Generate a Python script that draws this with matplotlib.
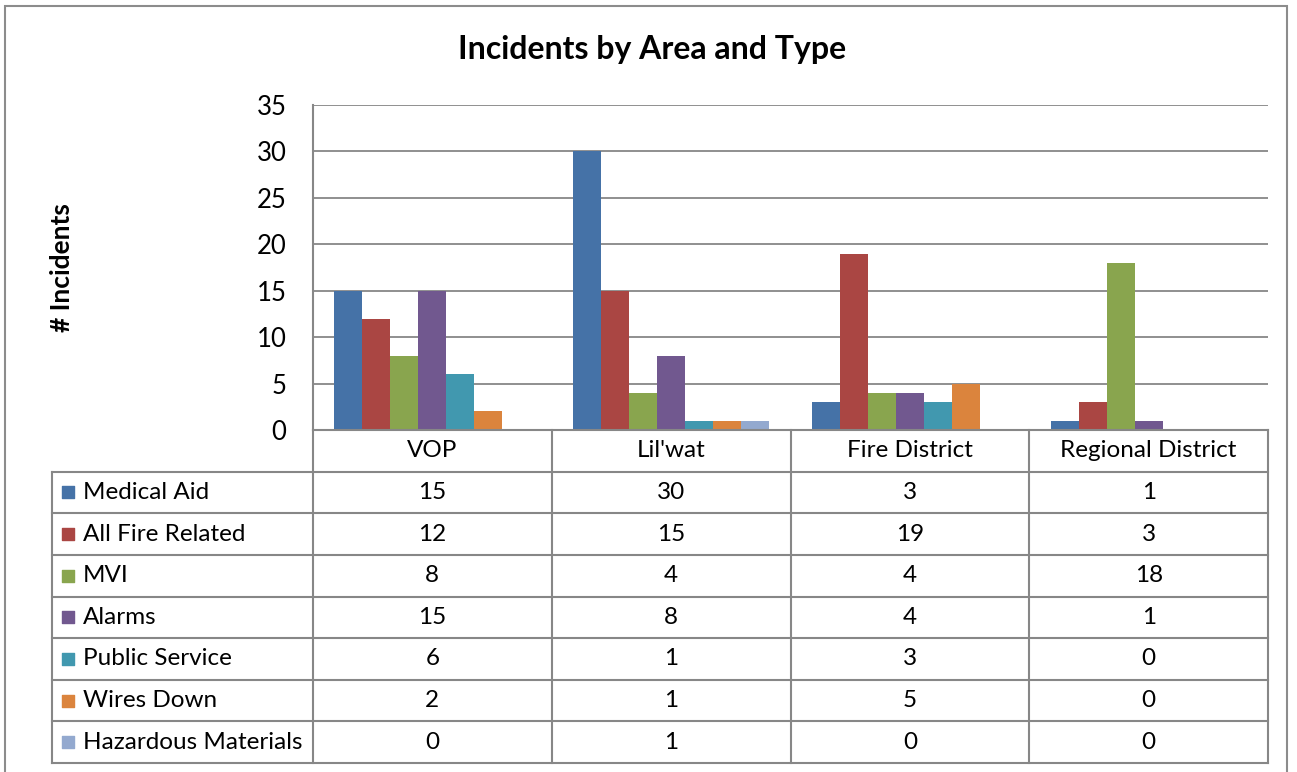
import numpy as np
import matplotlib.pyplot as plt
from matplotlib.patches import Rectangle

areas = ["VOP", "Lil'wat", "Fire District", "Regional District"]
types = ["Medical Aid", "All Fire Related", "MVI", "Alarms",
         "Public Service", "Wires Down", "Hazardous Materials"]
medical_aid = [15, 30, 3, 1]
all_fire_related = [12, 15, 19, 3]
mvi = [8, 4, 4, 18]
alarms = [15, 8, 4, 1]
public_service = [6, 1, 3, 0]
wires_down = [2, 1, 5, 0]
hazardous_materials = [0, 1, 0, 0]
series = [medical_aid, all_fire_related, mvi, alarms,
          public_service, wires_down, hazardous_materials]
colors = ["#4572A7", "#AA4643", "#89A54E", "#71588F",
          "#4198AF", "#DB843D", "#93A9CF"]

W, H = 1297, 772
plt.rcParams['font.family'] = ['Lato', 'DejaVu Sans']
line_col = "#878787"
tsize = 17.5


def box(x0, y0, x1, y1):
    # pixel box -> figure fraction
    return [x0 / W, 1 - y1 / H, (x1 - x0) / W, (y1 - y0) / H]


fig = plt.figure(figsize=(W / 100, H / 100), dpi=100)

# chart border
fig.patches.append(Rectangle((5 / W, -0.1), (1287 - 5) / W, 1.1 - 6 / H,
                             transform=fig.transFigure, fill=False,
                             edgecolor="#8c8c8c", lw=1.5))

fig.text(652 / W, 1 - 50 / H, "Incidents by Area and Type", ha="center",
         va="center", fontsize=23, fontweight="bold")
fig.text(62 / W, 1 - 268 / H, "# Incidents", ha="center", va="center",
         rotation=90, fontsize=19, fontweight="bold")

# bars
ax = fig.add_axes(box(313, 105, 1268, 430))
x = np.arange(len(areas))
n = len(series)
bw = 0.82 / n
for i, vals in enumerate(series):
    ax.bar(x - 0.41 + bw * (i + 0.5), vals, bw, color=colors[i], zorder=2)
ax.set_xlim(-0.5, len(areas) - 0.5)
ax.set_ylim(0, 35)
ax.set_yticks(range(0, 36, 5))
ax.set_xticks([])
ax.yaxis.grid(True, color=line_col, lw=1.3)
ax.set_axisbelow(True)
for s in ["top", "right"]:
    ax.spines[s].set_visible(False)
for s in ["left", "bottom"]:
    ax.spines[s].set_color(line_col)
    ax.spines[s].set_linewidth(1.5)
ax.tick_params(axis="y", length=0, pad=19, labelsize=18.5)

# data table
tx = fig.add_axes(box(52, 430, 1268, 763))
xl = -0.5 - (313 - 52) / ((1268 - 313) / len(areas))
tx.set_xlim(xl, len(areas) - 0.5)
tx.set_ylim(n + 1, 0)
tx.axis("off")
for r in range(1, n + 2):
    tx.plot([xl, len(areas) - 0.5], [r, r], color=line_col, lw=1.5,
            clip_on=False)
tx.plot([xl, xl], [1, n + 1], color=line_col, lw=1.5, clip_on=False)
for c in range(len(areas) + 1):
    tx.plot([c - 0.5, c - 0.5], [0, n + 1], color=line_col, lw=1.5,
            clip_on=False)
for c, a in enumerate(areas):
    tx.text(c, 0.5, a, ha="center", va="center", fontsize=tsize)
for r, (name, vals) in enumerate(zip(types, series)):
    yy = r + 1.5
    tx.scatter([xl + 0.067], [yy], marker="s", s=75, color=colors[r],
               clip_on=False)
    tx.text(xl + 0.13, yy, name, ha="left", va="center", fontsize=tsize)
    for c, v in enumerate(vals):
        tx.text(c, yy, str(v), ha="center", va="center", fontsize=tsize)

fig.savefig("out.png", dpi=100)
